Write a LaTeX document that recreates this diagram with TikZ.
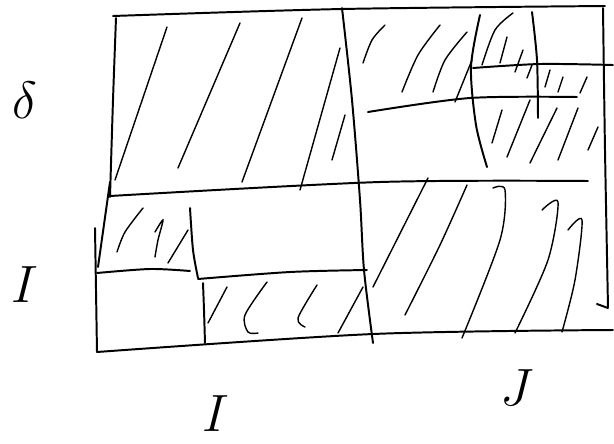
\documentclass[tikz,border=0pt]{standalone}
\usepackage{amsmath,amssymb}
\usetikzlibrary{arrows.meta,positioning,calc}

\tikzset{
  edge/.style={line width=1.4pt,line cap=round,line join=round},
  hatch/.style={line width=1pt,line cap=round},
  lbl/.style={font=\Huge,scale=1.5,inner sep=1pt}
}

\begin{document}
\begin{tikzpicture}[x=0.025cm,y=-0.025cm]
\useasboundingbox (0,0) rectangle (614,443);
% outer frame
\draw[edge] plot[smooth] coordinates {(113,16) (342,9) (605,6)};
\draw[edge] plot[smooth] coordinates {(603,8) (605,150) (608,307)};
\draw[edge] (597,304)--(608,308);
\draw[edge] plot[smooth] coordinates {(97,352) (373,334) (613,330)};
\draw[edge] plot[smooth] coordinates {(116,18) (113,100) (110,197)};
\draw[edge] (110,182)--(98,267);
\draw[edge] plot[smooth] coordinates {(95,228) (96,290) (97,352)};
% middle cross
\draw[edge] plot[smooth] coordinates {(342,8) (352,100) (360,200) (364,270) (373,343)};
\draw[edge] plot[smooth] coordinates {(110,196) (380,182) (588,181)};
% lower left split
\draw[edge] plot[smooth] coordinates {(97,273) (150,269) (190,271)};
\draw[edge] plot[smooth] coordinates {(190,208) (193,250) (198,278)};
\draw[edge] plot[smooth] coordinates {(198,279) (290,272) (367,270)};
\draw[edge] plot[smooth] coordinates {(203,283) (204,310) (205,343)};
% upper right split
\draw[edge] plot[smooth] coordinates {(368,112) (470,98) (577,97)};
\draw[edge] plot[smooth] coordinates {(473,68) (540,64) (613,65)};
\draw[edge] plot[smooth] coordinates {(480,15) (471,67) (476,125) (487,167)};
\draw[edge] plot[smooth] coordinates {(532,12) (537,60) (538,118)};
% hatching, upper left
\draw[hatch] (167,27)--(115,180);
\draw[hatch] (240,23)--(178,168);
\draw[hatch] (302,18)--(242,182);
\draw[hatch] (340,48)--(300,190);
\draw[hatch] (345,115)--(332,160);
% hatching, upper right
\draw[hatch] plot[smooth] coordinates {(385,25) (372,40) (363,63)};
\draw[hatch] plot[smooth] coordinates {(440,25) (418,55) (402,92)};
\draw[hatch] plot[smooth] coordinates {(467,32) (445,60) (433,92)};
\draw[hatch] (472,60)--(455,102);
\draw[hatch] plot[smooth] coordinates {(513,13) (495,30) (482,65)};
\draw[hatch] (507,37)--(500,63);
\draw[hatch] (523,50)--(515,72);
\draw[hatch] (532,65)--(527,78);
\draw[hatch] (550,70)--(545,87);
\draw[hatch] (563,77)--(558,92);
\draw[hatch] (587,77)--(580,93);
\draw[hatch] (502,110)--(492,143);
\draw[hatch] (530,100)--(507,157);
\draw[hatch] (557,108)--(530,163);
\draw[hatch] (578,108)--(558,160);
\draw[hatch] (598,127)--(588,150);
% hatching, lower right
\draw[hatch] (428,178)--(373,287);
\draw[hatch] plot[smooth] coordinates {(467,185) (440,245) (405,315)};
\draw[hatch] plot[smooth] coordinates {(493,188) (505,190) (500,240) (462,338)};
\draw[hatch] plot[smooth] coordinates {(542,210) (558,202) (548,260) (515,333)};
\draw[hatch] plot[smooth] coordinates {(568,230) (582,220) (575,280) (562,332)};
% hatching, lower left
\draw[hatch] plot[smooth] coordinates {(143,208) (125,232) (117,252)};
\draw[hatch] plot[smooth] coordinates {(155,232) (163,220) (158,240) (155,257)};
\draw[hatch] (188,230)--(168,263);
\draw[hatch] (227,287)--(208,323);
\draw[hatch] plot[smooth] coordinates {(267,282) (245,315) (248,332) (258,333)};
\draw[hatch] plot[smooth] coordinates {(317,285) (298,318) (305,327)};
\draw[hatch] (363,287)--(338,333);
% labels
\node[lbl] (delta) at (25,100) {$\delta$};
\node[lbl] (ileft) at (25,285) {$I$};
\node[lbl] (ibot) at (216,414) {$I$};
\node[lbl] (jbot) at (517,388) {$J$};
\end{tikzpicture}
\end{document}
